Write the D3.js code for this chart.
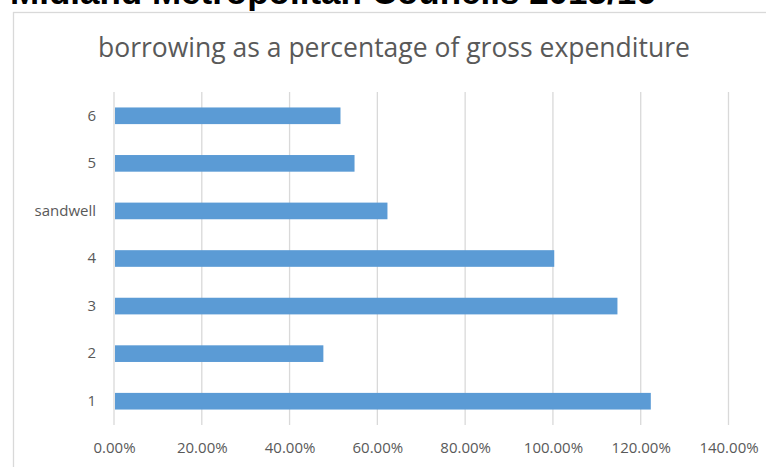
<!DOCTYPE html>
<html lang="en">
	<head>
		<meta charset="utf-8">
		<title>Borrowing chart</title>
		<script type="text/javascript" src="https://cdn.jsdelivr.net/npm/d3@7/dist/d3.min.js"></script>
		<style type="text/css">
		body {
			margin: 0;
			background: #fff;
		}
		.axis text {
			font: 15px "Open Sans", sans-serif;
			fill: #595959;
		}
		.grid line {
			stroke: #d9d9d9;
			stroke-width: 1.3;
		}
		</style>
	</head>
	<body>
		<script type="text/javascript">

		// data
		var categories = ["1", "2", "3", "4", "sandwell", "5", "6"];
		var values = [1.223, 0.477, 1.147, 1.003, 0.623, 0.548, 0.516];
		var xTicks = [0, 0.2, 0.4, 0.6, 0.8, 1.0, 1.2, 1.4];

		var W = 766, H = 467;
		var margin = {"top": 92, "bottom": 42, "left": 114, "right": 38};

		var svg = d3.select("body")
			.append("svg")
			.attr("width", W)
			.attr("height", H);

		// outer chart frame (runs off the right and bottom of the crop)
		svg.append("rect")
			.attr("x", 13.5)
			.attr("y", 12.5)
			.attr("width", W)
			.attr("height", H)
			.attr("fill", "#fff")
			.attr("stroke", "#d9d9d9")
			.attr("stroke-width", 1.3);

		// page heading, cut off at the top
		svg.append("text")
			.attr("x", 10)
			.attr("y", 4)
			.style("font", "bold 35px 'Liberation Sans', Arial, sans-serif")
			.style("fill", "#000")
			.text("Midland Metropolitan Councils 2015/16");

		// chart title
		svg.append("text")
			.attr("x", 394)
			.attr("y", 57)
			.attr("text-anchor", "middle")
			.style("font", "26.5px 'Open Sans', sans-serif")
			.style("fill", "#595959")
			.text("borrowing as a percentage of gross expenditure");

		var x = d3.scaleLinear()
			.domain([0, 1.4])
			.range([margin.left, margin.left + 614.5]);

		var y = d3.scaleBand()
			.domain(categories.slice().reverse())
			.range([margin.top, H - margin.bottom])
			.paddingInner(0.65)
			.paddingOuter(0.325);

		// vertical gridlines
		svg.append("g")
			.attr("class", "grid")
			.selectAll("line")
			.data(xTicks).enter()
			.append("line")
			.attr("x1", function(d) { return x(d); })
			.attr("x2", function(d) { return x(d); })
			.attr("y1", margin.top)
			.attr("y2", H - margin.bottom);

		// bars
		svg.selectAll(".bar")
			.data(categories).enter()
			.append("rect")
			.attr("class", "bar")
			.attr("x", x(0) + 1)
			.attr("y", function(d) { return y(d); })
			.attr("width", function(d, i) { return x(values[i]) - x(0) - 1; })
			.attr("height", y.bandwidth())
			.style("fill", "#5b9bd5");

		// x axis labels
		var xAxis = d3.axisBottom(x)
			.tickValues(xTicks)
			.tickSize(0)
			.tickPadding(17)
			.tickFormat(d3.format(".2%"));

		svg.append("g")
			.attr("class", "x axis")
			.attr("transform", "translate(0," + (H - margin.bottom) + ")")
			.call(xAxis)
			.call(function(g) { g.select(".domain").remove(); });

		// y axis labels
		var yAxis = d3.axisLeft(y)
			.tickSize(0)
			.tickPadding(18);

		svg.append("g")
			.attr("class", "y axis")
			.attr("transform", "translate(" + margin.left + ",0)")
			.call(yAxis)
			.call(function(g) { g.select(".domain").remove(); });

		</script>
	</body>
</html>
